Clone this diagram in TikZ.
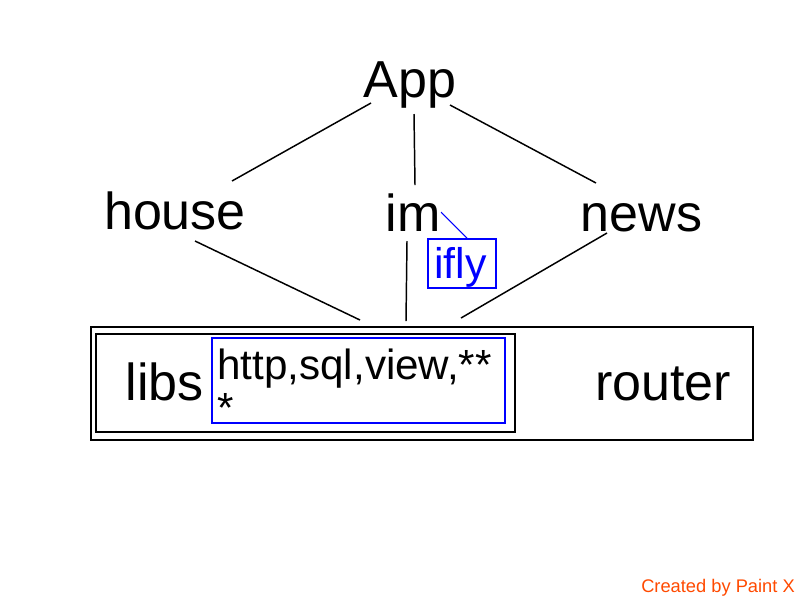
\documentclass[tikz,border=0pt]{standalone}
\usepackage{fontspec}
\setmainfont{Liberation Sans}
\usepackage{xcolor}
\usepackage{tikz}
\usetikzlibrary{calc}
\newdimen\pxu
\pxu=0.025cm
\definecolor{paintblue}{HTML}{0000FF}
\definecolor{paintred}{HTML}{FF4A00}
\newcommand{\paintbox}[6]{
    \node[
        draw=#1,
        line width=#6,
        minimum width=#4\pxu,
        minimum height=#5\pxu,
        inner sep=0pt
    ] (#2) at (#3) {};
}

\begin{document}
\begin{tikzpicture}[x=0.025cm,y=-0.025cm,
    word/.style={inner sep=0pt, anchor=base, font=\fontsize{37}{44}\selectfont},
    link/.style={line width=1.05pt, black},
    bluelink/.style={line width=0.75pt, paintblue}]
    \useasboundingbox[fill=white] (0,0) rectangle (800,600);

    \paintbox{black}{core}{422,383.5}{662}{113}{1.4pt}
    \paintbox{black}{libsbox}{305.5,383}{419}{98}{1.4pt}
    \paintbox{paintblue}{listbox}{358.5,380.5}{293}{85}{1.1pt}
    \paintbox{paintblue}{iflybox}{462,263.5}{68}{49}{1.1pt}

    \node[word] (app) at (410,97) {App};
    \node[word] (house) at (175,229) {house};
    \node[word] (im) at (413,231) {im};
    \node[word] (news) at (641.5,231) {news};
    \node[word] (libs) at (164.5,400) {libs};
    \node[word] (router) at (663,400) {router};
    \node[word, anchor=north west, align=left, font=\fontsize{30}{30}\selectfont] (list) at (217,349) {http,sql,view,**\\*};
    \node[word, text=paintblue, font=\fontsize{30.5}{36}\selectfont] (ifly) at (460.5,278) {ifly};
    \node[word, anchor=base east, text=paintred, font=\fontsize{13}{15}\selectfont] (credit) at (795,592) {Created by Paint X};

    \draw[link] ($(app.base)+(-39,6)$) -- ($(house.base)+(57,-48)$);
    \draw[link] ($(app.base)+(4,17)$) -- ($(im.base)+(2,-46)$);
    \draw[link] ($(app.base)+(40,8)$) -- ($(news.base)+(-45.5,-48)$);
    \draw[link] ($(house.base)+(20,12)$) -- ($(core.north)+(-62,-6)$);
    \draw[link] ($(im.base)+(-6,10)$) -- ($(core.north)+(-16,-5)$);
    \draw[link] ($(news.base)+(-34.5,2)$) -- ($(core.north)+(39,-8)$);
    \draw[bluelink] ($(im.base)+(28,-19)$) -- ($(iflybox.north)+(5,0)$);
\end{tikzpicture}
\end{document}
